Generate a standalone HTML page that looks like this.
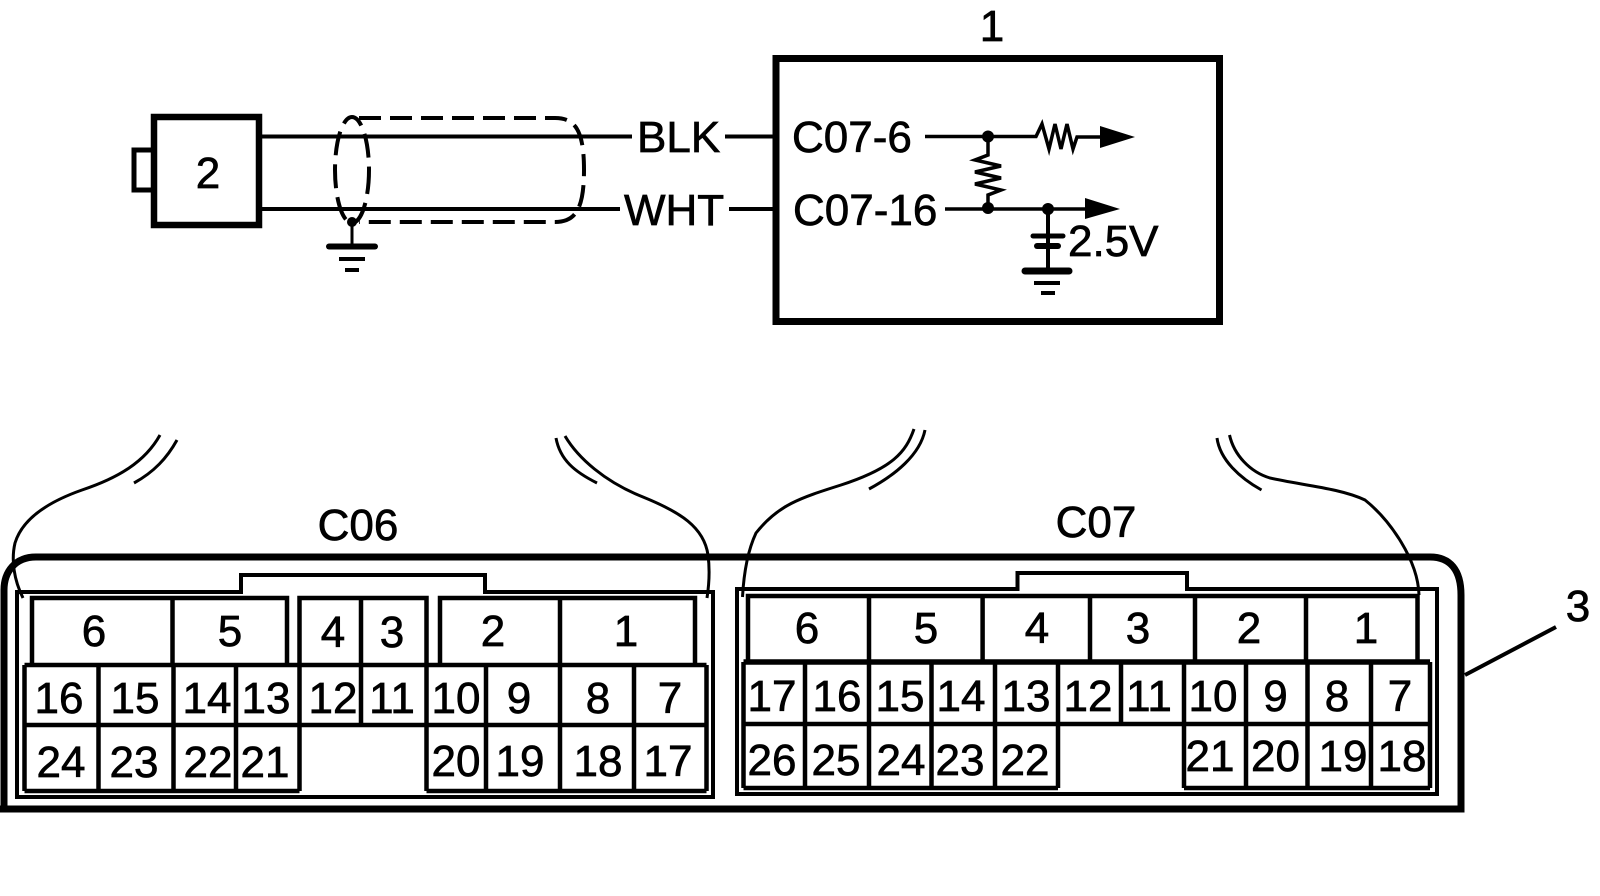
<!DOCTYPE html>
<html><head><meta charset="utf-8"><style>
html,body{margin:0;padding:0;background:#fff;width:1600px;height:896px;overflow:hidden}
svg{display:block}
text{font-family:"Liberation Sans",sans-serif;font-size:44px;fill:#000;stroke:#000;stroke-width:.7px;text-anchor:middle}
.s{text-anchor:start}
path,rect,line,ellipse{fill:none;stroke:#000}
path.a{fill:#000;stroke:none}
</style></head><body>
<svg width="1600" height="896" viewBox="0 0 1600 896" xmlns="http://www.w3.org/2000/svg">
<!-- top: component 1 -->
<rect x="776" y="58.5" width="443.5" height="263" stroke-width="7"/>
<text x="992" y="41">1</text>
<!-- sensor 2 -->
<rect x="154" y="117" width="105" height="108" stroke-width="6.5"/>
<rect x="134" y="150" width="20" height="40" stroke-width="5"/>
<text x="208" y="188">2</text>
<!-- wires -->
<path d="M259 136.5H632M725 136.5H776M259 209H620M729 209H776" stroke-width="4"/>
<text class="s" x="637" y="152">BLK</text>
<text class="s" x="624" y="225">WHT</text>
<text class="s" x="792" y="152">C07-6</text>
<text class="s" x="793" y="225">C07-16</text>
<!-- shield -->
<path d="M359 118H555C575 118 584 130 584 170C584 210 575 222 555 222H359" stroke-width="4" stroke-dasharray="22 9"/>
<ellipse cx="352" cy="170" rx="17" ry="53" stroke-width="4" stroke-dasharray="24 9"/>
<circle cx="352" cy="222" r="5" fill="#000"/>
<path d="M352 222V246" stroke-width="3"/>
<path d="M329 246.5H375" stroke-width="6" stroke-linecap="round"/>
<path d="M339 259H365M345 270H359" stroke-width="4"/>
<!-- internal circuit -->
<path d="M925 136.5H1031L1036 136.5L1042 124L1049 149L1055 124L1061 149L1067 124L1073 149L1077 137H1105" stroke-width="3.5"/>
<path class="a" d="M1100 126L1135 137L1100 148Z"/>
<path d="M945 209H1090" stroke-width="3.5"/>
<path class="a" d="M1085 198L1120 209L1085 219Z"/>
<circle cx="988" cy="136.5" r="6" fill="#000"/>
<circle cx="988" cy="208" r="6" fill="#000"/>
<circle cx="1048" cy="209" r="6" fill="#000"/>
<path d="M988 137V155L975 160L1001 166L975 172L1001 178L975 184L1001 190L988 195V208" stroke-width="3.5"/>
<path d="M1048 209V271" stroke-width="4"/>
<path d="M1033 236H1063" stroke-width="5" stroke-linecap="round"/>
<path d="M1037 246H1058" stroke-width="6" stroke-linecap="round"/>
<path d="M1025 271H1069" stroke-width="7" stroke-linecap="round"/>
<path d="M1034 283H1060M1041 293H1055" stroke-width="4"/>
<text class="s" x="1068" y="256">2.5V</text>

<!-- curved brackets -->
<g stroke-width="3" fill="none" stroke="#000">
<path d="M160 435C145 462 118 478 82 490C45 503 22 520 15 543C11 560 14 580 23 598"/>
<path d="M177 440C167 458 154 472 134 483"/>
<path d="M565 436C578 458 605 482 643 497C680 512 704 527 708 555C710 570 709 585 707 598"/>
<path d="M556 438C560 460 575 472 597 483"/>
<path d="M914 429C906 452 893 468 841 485C800 498 778 505 756 533C748 550 744 570 742.5 597"/>
<path d="M925 430C920 455 895 475 869 489"/>
<path d="M1229.5 435C1234 455 1250 472 1270 478C1300 485 1340 488 1365 500C1390 520 1418 560 1419 595"/>
<path d="M1217 438C1220 460 1240 478 1261.5 490"/>
</g>

<!-- outer frame 3 -->
<path d="M4 809V590C4 572 15 557 36 557H1430C1450 557 1461 570 1461 595V809H0" stroke-width="7"/>
<path d="M1465 675L1556 627" stroke-width="4"/>
<text x="1578" y="621">3</text>

<!-- C06 -->
<text x="358" y="540">C06</text>
<path d="M17 592H241V575H485V592H713V797H17Z" stroke-width="4"/>
<g stroke-width="4.5">
<path d="M32 665V598H287V665M172.5 598V665M299.5 665V598H426.5V665M361 598V665M440 665V598H695V665M560 598V665"/>
<path d="M24.5 665H706.5M24.5 725H706.5M24.5 791H299.5M426.5 791H706.5"/>
<path d="M24.5 665V791M98.5 665V791M173.5 665V791M236 665V791M299.5 665V791M361 665V725M426.5 665V791M486 665V791M560 665V791M634 665V791M706.5 665V791"/>
</g>
<g>
<text x="94" y="646">6</text><text x="230" y="646">5</text><text x="333" y="647">4</text><text x="392" y="647">3</text><text x="493" y="646">2</text><text x="626" y="646">1</text>
<text x="59" y="713">16</text><text x="135" y="713">15</text><text x="207" y="713">14</text><text x="266" y="713">13</text><text x="333" y="713">12</text><text x="392" y="713">11</text><text x="456" y="713">10</text><text x="519" y="713">9</text><text x="598" y="713">8</text><text x="670" y="713">7</text>
<text x="61" y="777">24</text><text x="134" y="777">23</text><text x="208" y="777">22</text><text x="265" y="777">21</text><text x="456" y="776">20</text><text x="520" y="776">19</text><text x="598" y="776">18</text><text x="668" y="776">17</text>
</g>

<!-- C07 -->
<text x="1096" y="537">C07</text>
<path d="M737 589H1017.5V573H1187V589H1437V794H737Z" stroke-width="4"/>
<g stroke-width="4.5">
<path d="M748 662V596H1417.5V662M869 596V662M982.6 596V662M1090 596V662M1195 596V662M1306 596V662"/>
<path d="M743.5 662H1430" stroke-width="5.5"/>
<path d="M743.5 724H1430M743.5 788H1058M1184 788H1430"/>
<path d="M743.5 662V788M805 662V788M869 662V788M931.5 662V788M995 662V788M1058 662V788M1121 662V724M1184 662V788M1246 662V788M1307.5 662V788M1371 662V788M1430 662V788"/>
</g>
<g>
<text x="807" y="643">6</text><text x="926" y="643">5</text><text x="1037" y="643">4</text><text x="1138" y="643">3</text><text x="1249" y="643">2</text><text x="1366" y="643">1</text>
<text x="772" y="711">17</text><text x="837" y="711">16</text><text x="900" y="711">15</text><text x="961" y="711">14</text><text x="1026" y="711">13</text><text x="1088" y="711">12</text><text x="1149" y="711">11</text><text x="1213" y="711">10</text><text x="1275.5" y="711">9</text><text x="1337" y="711">8</text><text x="1400" y="711">7</text>
<text x="772" y="775">26</text><text x="836" y="775">25</text><text x="901" y="775">24</text><text x="960" y="775">23</text><text x="1025" y="775">22</text><text x="1210" y="771">21</text><text x="1275.5" y="771">20</text><text x="1343" y="771">19</text><text x="1402" y="771">18</text>
</g>
</svg>
</body></html>
